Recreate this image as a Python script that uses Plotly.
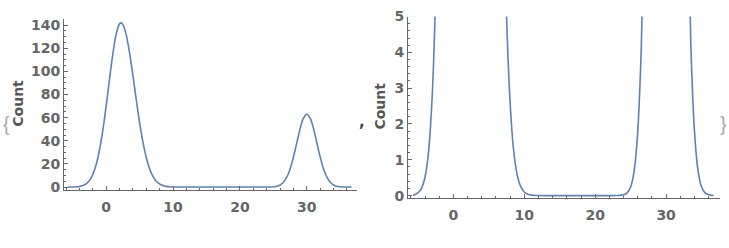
import plotly.graph_objects as go

# Values (smoothed count curve)
x_vals = [-5.7, -5.5, -5.0, -4.5, -4.0, -3.5, -3.0, -2.5, -2.0, -1.5, -1.0, -0.5,
          0.0, 0.5, 1.0, 1.5, 2.0, 2.2, 2.5, 3.0, 3.5, 4.0, 4.5, 5.0, 5.5, 6.0,
          6.5, 7.0, 7.5, 8.0, 8.5, 9.0, 9.5, 10.0, 10.5, 11.0, 12.0, 14.0, 16.0,
          18.0, 20.0, 22.0, 23.0, 24.0, 24.5, 25.0, 25.5, 26.0, 26.5, 27.0, 27.5,
          28.0, 28.5, 29.0, 29.5, 30.0, 30.5, 31.0, 31.5, 32.0, 32.5, 33.0, 33.5,
          34.0, 34.5, 35.0, 35.5, 36.0, 36.5, 36.7]
counts = [0.01, 0.025, 0.073, 0.20, 0.52, 1.23, 2.73, 5.6, 10.8, 19.2, 31.8, 49.0,
          70.0, 93.1, 115.0, 132.2, 141.2, 142.0, 140.5, 131.6, 116.1, 96.6, 75.7, 55.9, 38.9, 25.5,
          15.7, 9.2, 5.0, 2.6, 1.26, 0.58, 0.25, 0.10, 0.04, 0.013, 0.001, 0.0, 0.0,
          0.0, 0.0, 0.0, 0.002, 0.021, 0.076, 0.24, 0.70, 1.80, 4.14, 8.5, 15.7,
          25.9, 38.2, 50.5, 59.6, 63.0, 59.6, 50.5, 38.2, 25.9, 15.7, 8.5, 4.14,
          1.80, 0.70, 0.24, 0.076, 0.021, 0.005, 0.003]

left_yticks = [0, 20, 40, 60, 80, 100, 120, 140]
right_yticks = [0, 1, 2, 3, 4, 5]
xticks = [0, 10, 20, 30]

W, H = 729, 248
LINE = "#5E81B5"
AX = "#666666"
FONT = "DejaVu Sans"

fig = go.Figure()
fig.add_trace(go.Scatter(x=x_vals, y=counts, mode="lines", line=dict(color=LINE, width=1.6, shape="spline"),
                         xaxis="x", yaxis="y", showlegend=False, hoverinfo="skip"))
fig.add_trace(go.Scatter(x=x_vals, y=counts, mode="lines", line=dict(color=LINE, width=1.6, shape="spline"),
                         xaxis="x2", yaxis="y2", showlegend=False, hoverinfo="skip"))

def px_x(p):
    return p / W

def px_y(p):
    return 1 - p / H

common_axis = dict(showline=True, linecolor=AX, linewidth=1, showgrid=False, zeroline=False,
                   ticks="inside", ticklen=4, tickcolor=AX, tickwidth=1,
                   tickfont=dict(family=FONT, size=14, color=AX, weight="bold"))

fig.update_layout(
    width=W, height=H, margin=dict(l=0, r=0, t=0, b=0),
    paper_bgcolor="white", plot_bgcolor="white",
    xaxis=dict(domain=[px_x(64), px_x(357)], range=[-6.3, 37.5], tickvals=xticks, anchor="y",
               ticklabelstandoff=4,
               minor=dict(ticks="inside", ticklen=2, dtick=2, tickcolor=AX, showgrid=False),
               **common_axis),
    yaxis=dict(domain=[px_y(192), px_y(12)], range=[-2.5, 145], tickvals=left_yticks, anchor="x",
               minor=dict(ticks="inside", ticklen=2, dtick=5, tickcolor=AX, showgrid=False),
               **common_axis),
    xaxis2=dict(domain=[px_x(408), px_x(720)], range=[-6.4, 37.6], tickvals=xticks, anchor="y2",
                ticklabelstandoff=4,
                minor=dict(ticks="inside", ticklen=2, dtick=2, tickcolor=AX, showgrid=False),
                **common_axis),
    yaxis2=dict(domain=[px_y(201), px_y(9)], range=[-0.08, 5], tickvals=right_yticks, anchor="x2",
                minor=dict(ticks="inside", ticklen=2, dtick=0.2, tickcolor=AX, showgrid=False),
                **common_axis),
)

ann = [
    dict(text="Count", x=px_x(18), y=px_y(101), textangle=-90),
    dict(text="Count", x=px_x(380), y=px_y(104), textangle=-90),
]
for a in ann:
    fig.add_annotation(xref="paper", yref="paper", showarrow=False, x=a["x"], y=a["y"],
                       text=a["text"], textangle=a["textangle"], xanchor="center", yanchor="middle",
                       font=dict(family=FONT, size=14, color="#555555", weight="bold"))

fig.add_annotation(xref="paper", yref="paper", showarrow=False, x=px_x(6), y=px_y(122), text="{",
                   xanchor="center", yanchor="middle", font=dict(family="Liberation Sans", size=20, color="#aaaaaa"))
fig.add_annotation(xref="paper", yref="paper", showarrow=False, x=px_x(723), y=px_y(122), text="}",
                   xanchor="center", yanchor="middle", font=dict(family="Liberation Sans", size=20, color="#aaaaaa"))
fig.add_annotation(xref="paper", yref="paper", showarrow=False, x=px_x(362), y=px_y(120), text=",",
                   xanchor="center", yanchor="middle", font=dict(family=FONT, size=15, color="#444444", weight="bold"))

fig.write_html("out.html")
